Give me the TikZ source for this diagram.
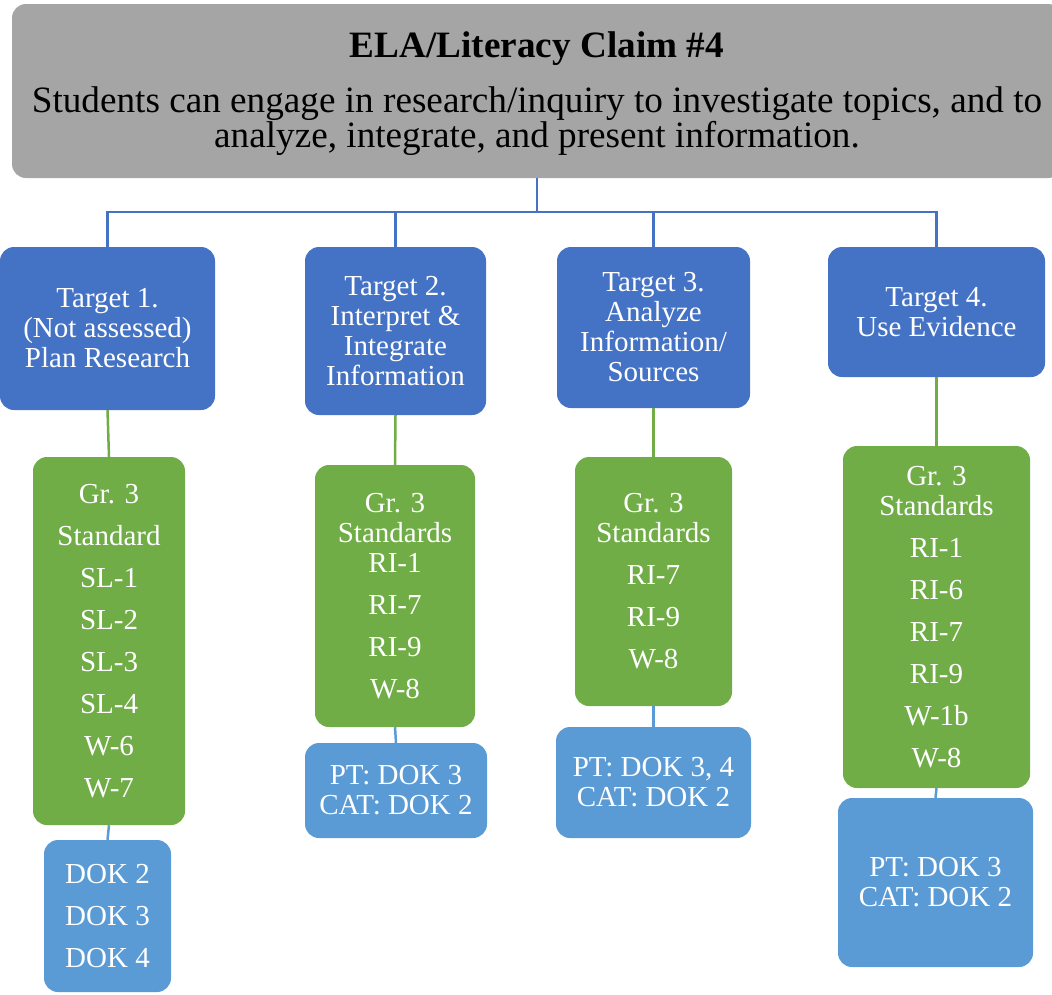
\documentclass[tikz,border=0pt]{standalone}
\usepackage{fontspec}
\setmainfont{Liberation Serif}
\definecolor{topgray}{HTML}{A5A5A5}
\definecolor{tblue}{HTML}{4472C4}
\definecolor{lgreen}{HTML}{70AD47}
\definecolor{dblue}{HTML}{5B9BD5}
\tikzset{
  box/.style={rounded corners=14pt, inner sep=0pt, align=center, text=white,
    font=\fontsize{29}{30}\selectfont},
  targetbox/.style={box, fill=tblue},
  stdbox/.style={box, fill=lgreen},
  dokbox/.style={box, fill=dblue},
  trunk/.style={draw=tblue, line width=2.5pt},
  gline/.style={draw=lgreen, line width=2.5pt},
  bline/.style={draw=dblue, line width=2.5pt}
}
\begin{document}
\begin{tikzpicture}[x=1pt,y=-1pt]
\useasboundingbox (0,0) rectangle (1052,994);
\node[rounded corners=14pt, fill=topgray, inner sep=0pt, align=center,
  minimum width=1050pt, minimum height=174pt, font=\fontsize{37.2}{35}\selectfont]
  (top) at (537,91) {\rule{0pt}{31pt}{\bfseries ELA/Literacy Claim \#4}\\[20pt]
  Students can engage in research/inquiry to investigate topics, and to\\
  analyze, integrate, and present information.};
\node[targetbox, minimum width=215pt, minimum height=163pt] (T1) at (107.5,328.5)
  {Target 1.\\(Not assessed)\\Plan Research};
\node[targetbox, minimum width=181pt, minimum height=168pt] (T2) at (395.5,331)
  {Target 2.\\Interpret \&\\Integrate\\Information};
\node[targetbox, minimum width=193pt, minimum height=161pt] (T3) at (653.5,327.5)
  {Target 3.\\Analyze\\Information/\\Sources};
\node[targetbox, minimum width=217pt, minimum height=130pt] (T4) at (936.5,312)
  {Target 4.\\Use Evidence};
\node[stdbox, minimum width=152pt, minimum height=368pt] (G1) at (109,641)
  {Gr. 3\\[12pt]Standard\\[12pt]SL-1\\[12pt]SL-2\\[12pt]SL-3\\[12pt]SL-4\\[12pt]W-6\\[12pt]W-7};
\node[stdbox, minimum width=160pt, minimum height=262pt] (G2) at (395,596)
  {Gr. 3\\Standards\\RI-1\\[12pt]RI-7\\[12pt]RI-9\\[12pt]W-8};
\node[stdbox, minimum width=157pt, minimum height=249pt] (G3) at (653.5,581.5)
  {Gr. 3\\Standards\\[12pt]RI-7\\[12pt]RI-9\\[12pt]W-8};
\node[stdbox, minimum width=187pt, minimum height=342pt] (G4) at (936.5,617)
  {Gr. 3\\Standards\\[12pt]RI-1\\[12pt]RI-6\\[12pt]RI-7\\[12pt]RI-9\\[12pt]W-1b\\[12pt]W-8};
\node[dokbox, minimum width=127pt, minimum height=152pt] (D1) at (107.5,916)
  {DOK 2\\[12pt]DOK 3\\[12pt]DOK 4};
\node[dokbox, minimum width=182pt, minimum height=95pt] (D2) at (396,790.5)
  {PT: DOK 3\\CAT: DOK 2};
\node[dokbox, minimum width=195pt, minimum height=111pt] (D3) at (653.5,782.5)
  {PT: DOK 3, 4\\CAT: DOK 2};
\node[dokbox, minimum width=195pt, minimum height=169pt] (D4) at (935.5,882.5)
  {PT: DOK 3\\CAT: DOK 2};
\coordinate (j) at (537,212);
\draw[trunk] (top.south) -- (j);
\draw[trunk] (T1.north) |- (j) -| (T4.north);
\draw[trunk] (j) -| (T2.north);
\draw[trunk] (j) -| (T3.north);
\draw[gline] (T1.south) -- (G1.north);
\draw[gline] (T2.south) -- (G2.north);
\draw[gline] (T3.south) -- (G3.north);
\draw[gline] (T4.south) -- (G4.north);
\draw[bline] (G1.south) -- (D1.north);
\draw[bline] (G2.south) -- (D2.north);
\draw[bline] (G3.south) -- (D3.north);
\draw[bline] (G4.south) -- (D4.north);
\end{tikzpicture}
\end{document}
